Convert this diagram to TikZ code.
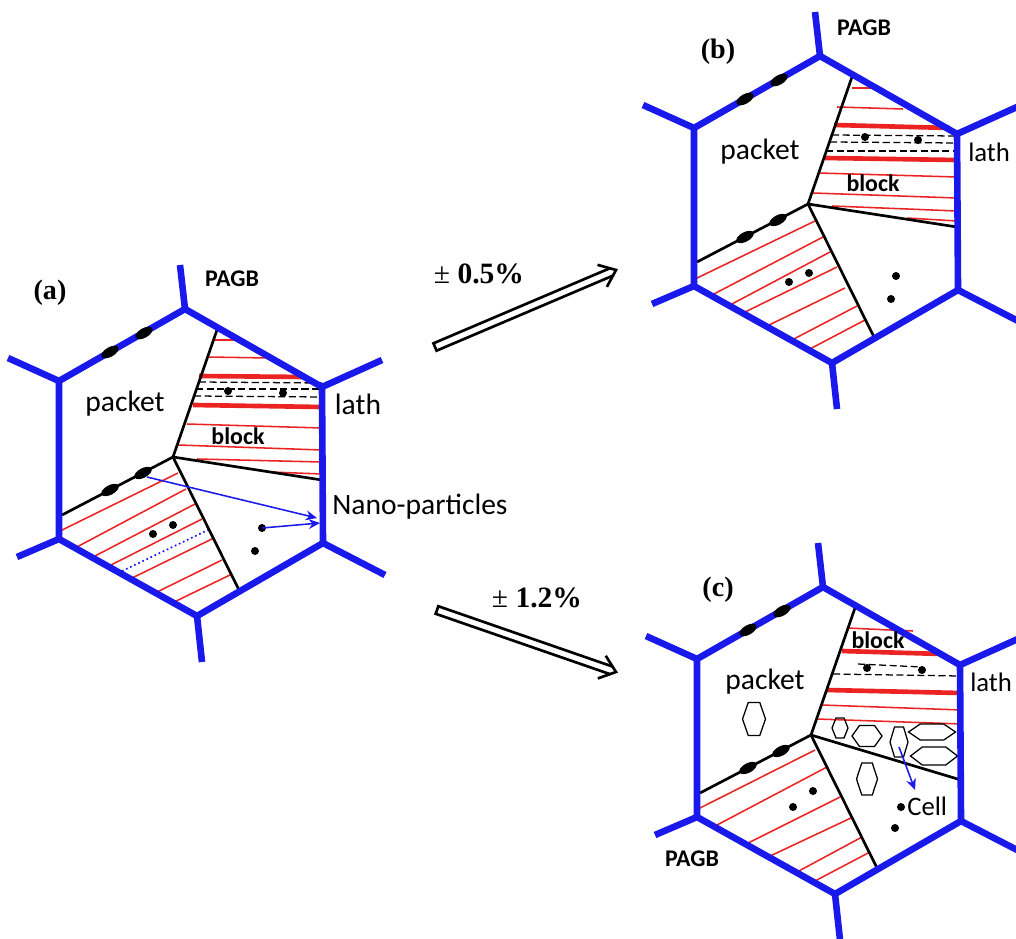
\documentclass[tikz,border=0pt]{standalone}
\usepackage{fontspec}
\setmainfont{Liberation Serif}
\setsansfont{Carlito}
\usetikzlibrary{arrows.meta}
\definecolor{pagbblue}{RGB}{25,25,235}
\definecolor{lathred}{RGB}{235,35,35}

\begin{document}
\begin{tikzpicture}[
    x=0.025cm, y=-0.025cm,
    pagb/.style={draw=pagbblue, line width=4.7pt},
    gb/.style={draw=black, line width=1.9pt},
    lath/.style={draw=lathred, line width=1.1pt},
    thicklath/.style={draw=lathred, line width=3.3pt},
    carbide/.style={draw=black, line width=0.9pt, dash pattern=on 5pt off 2.5pt},
    cellwall/.style={draw=black, line width=0.9pt},
    pointer/.style={draw=pagbblue, line width=1.1pt, -{Stealth[length=8pt,width=7pt]}},
    strain/.style={draw=black, line width=1.9pt, line join=miter},
    word/.style={font=\sffamily\fontsize{21}{21}\selectfont, inner sep=0pt},
    boldword/.style={font=\sffamily\bfseries\fontsize{17}{17}\selectfont, inner sep=0pt},
    tag/.style={font=\bfseries\fontsize{20}{20}\selectfont, inner sep=0pt}
  ]
  \clip (0,0) rectangle (1016,938);

  % (a) initial microstructure
  \begin{scope}
    \foreach \xa/\ya/\xb/\yb in {60/531/178/473, 75/548/186/489, 93/557/195/504, 109/566/202/519,
                                 130/579/214/538, 155/593/222/560, 172/603/232/574}
      \draw[lath] (\xa,\ya) -- (\xb,\yb);
    \draw[pagbblue, line width=1.2pt, dotted] (122,571) -- (208,530);
    \foreach \xa/\ya/\xb/\yb in {213/340/240/340, 207/357/270/358, 187/424/322/428,
                                 178/445/322/450, 197/459/322/462, 270/472/322/474}
      \draw[lath] (\xa,\ya) -- (\xb,\yb);
    \draw[thicklath] (199,376) -- (306,377);
    \draw[thicklath] (193,405) -- (322,407);
    \draw[carbide] (199,382) -- (322,383);
    \draw[carbide] (196,389) -- (322,389);
    \draw[carbide] (194,396) -- (322,397);
    \draw[gb] (173,457) -- (322,480);
    \foreach \px/\py in {228/391, 283/393, 153/534, 173/525, 262/528, 255/551}
      \fill (\px,\py) circle (4);
  \end{scope}

  % (b) after +-0.5 %
  \begin{scope}[shift={(635,-253)}]
    \foreach \xa/\ya/\xb/\yb in {60/532/180/474, 77/548/188/490, 95/558/195/505, 108/566/202/520,
                                 130/580/210/541, 155/594/222/559, 173/603/230/573}
      \draw[lath] (\xa,\ya) -- (\xb,\yb);
    \foreach \xa/\ya/\xb/\yb in {217/341/240/341, 202/360/268/362, 183/426/322/430,
                                 178/446/322/451, 197/459/322/464, 272/471/322/474}
      \draw[lath] (\xa,\ya) -- (\xb,\yb);
    \draw[thicklath] (199,378) -- (315,381);
    \draw[thicklath] (190,411) -- (322,413);
    \draw[carbide] (197,388) -- (322,389);
    \draw[carbide] (195,395) -- (322,396);
    \draw[carbide] (191,404) -- (322,404);
    \draw[gb] (173,457) -- (322,480);
    \foreach \px/\py in {230/390, 283/393, 154/535, 174/526, 261/529, 256/552}
      \fill (\px,\py) circle (4);
  \end{scope}

  % (c) after +-1.2 %
  \begin{scope}[shift={(638,278)}]
    \foreach \xa/\ya/\xb/\yb in {62/530/177/472, 79/547/189/489, 110/565/202/519,
                                 130/579/215/539, 159/594/224/559, 175/604/232/574}
      \draw[lath] (\xa,\ya) -- (\xb,\yb);
    \foreach \xa/\ya/\xb/\yb in {209/350/275/353, 184/427/324/432, 179/441/324/446}
      \draw[lath] (\xa,\ya) -- (\xb,\yb);
    \draw[thicklath] (204,373) -- (304,376);
    \draw[thicklath] (189,412) -- (323,415);
    \draw[carbide] (220,386) -- (284,389);
    \draw[carbide] (195,396) -- (322,398);
    \draw[gb] (173,457) -- (323,502);
    % dislocation cells
    \foreach \cx/\cy/\w/\h in {116/441/23/33, 202/450/16/20, 229/458/30/21, 261/464/18/30,
                               294/454/47/16, 296/478/47/18, 229/501/21/32}
      \draw[cellwall] ({\cx-\w/4},{\cy-\h/2}) -- ({\cx+\w/4},{\cy-\h/2}) -- ({\cx+\w/2},\cy)
        -- ({\cx+\w/4},{\cy+\h/2}) -- ({\cx-\w/4},{\cy+\h/2}) -- ({\cx-\w/2},\cy) -- cycle;
    \foreach \px/\py in {229/390, 284/392, 175/513, 155/529, 263/529, 257/550}
      \fill (\px,\py) circle (4);
  \end{scope}

  % prior austenite grains with packet boundaries
  \foreach \sx/\sy in {0/0, 635/-253, 638/278} {
    \begin{scope}[shift={(\sx,\sy)}]
      \draw[gb] (62,515) -- (173,457) -- (218,327);
      \draw[gb] (173,457) -- (239,590);
      \draw[pagb] (185,309) -- (322,387) -- (323,543) -- (197,616) -- (59,539) -- (59,381) -- cycle;
      \draw[pagb] (185,309) -- (180,265);
      \draw[pagb] (59,381) -- (8,358);
      \draw[pagb] (59,539) -- (17,557);
      \draw[pagb] (197,616) -- (202,662);
      \draw[pagb] (323,543) -- (385,575);
      \draw[pagb] (322,387) -- (382,360);
      \foreach \ex/\ey/\ang in {110/352/30, 144/333/30, 110/490/28, 143/473/28}
        \fill[rotate around={\ang:(\ex,\ey)}] (\ex,\ey) ellipse [x radius=9.5, y radius=4.8];
    \end{scope}
  }

  % labels of (a)
  \node[tag] (tagA) at (50,293) {(a)};
  \node[boldword] (pagbA) at (232,279) {PAGB};
  \node[word] (packetA) at (125,404) {packet};
  \node[word] (lathA) at (358,404) {lath};
  \node[boldword] (blockA) at (238,436) {block};
  \node[word, anchor=west] (nano) at (332,507) {Nano-particles};
  \coordinate (gbSrc) at (147,477);
  \coordinate (gbTip) at (317,518);
  \coordinate (dotSrc) at (262,528);
  \coordinate (dotTip) at (320,523);
  \draw[pointer] (gbSrc) -- (gbTip);
  \draw[pointer] (dotSrc) -- (dotTip);

  % labels of (b)
  \node[tag] (tagB) at (718,52) {(b)};
  \node[boldword] (pagbB) at (864,28) {PAGB};
  \node[word] (packetB) at (760,152) {packet};
  \node[word, anchor=west, font=\sffamily\fontsize{19}{19}\selectfont] (lathB) at (968,152) {lath};
  \node[boldword] (blockB) at (873,183) {block};

  % labels of (c)
  \node[tag] (tagC) at (718,590) {(c)};
  \node[boldword] (pagbC) at (692,859) {PAGB};
  \node[word] (packetC) at (765,682) {packet};
  \node[word, anchor=west, font=\sffamily\fontsize{19}{19}\selectfont] (lathC) at (970,682) {lath};
  \node[boldword] (blockC) at (878,640) {block};
  \node[word, anchor=west, font=\sffamily\fontsize{19}{19}\selectfont] (cell) at (907,806) {Cell};
  \coordinate (cellSrc) at (899,747);
  \coordinate (cellTip) at (915,790);
  \draw[pointer] (cellSrc) -- (cellTip);

  % strain amplitudes: open double arrows
  \coordinate (lowStart) at (435,347);
  \coordinate (highStart) at (437,610);
  \foreach \src/\ang/\len in {lowStart/23.05/196.7, highStart/-19.1/189.4} {
    \begin{scope}[shift={(\src)}, rotate=\ang]
      \draw[strain] ({\len-5},-4) -- (0,-4) -- (0,4) -- ({\len-5},4);
      \draw[strain] ({\len-15},-12) -- (\len,0) -- ({\len-15},12);
    \end{scope}
  }
  \node[font=\fontsize{21}{21}\selectfont, inner sep=0pt] (ampLow) at (479,274) {± \textbf{0.5\%}};
  \node[font=\fontsize{21}{21}\selectfont, inner sep=0pt] (ampHigh) at (537,598) {± \textbf{1.2\%}};
\end{tikzpicture}
\end{document}
